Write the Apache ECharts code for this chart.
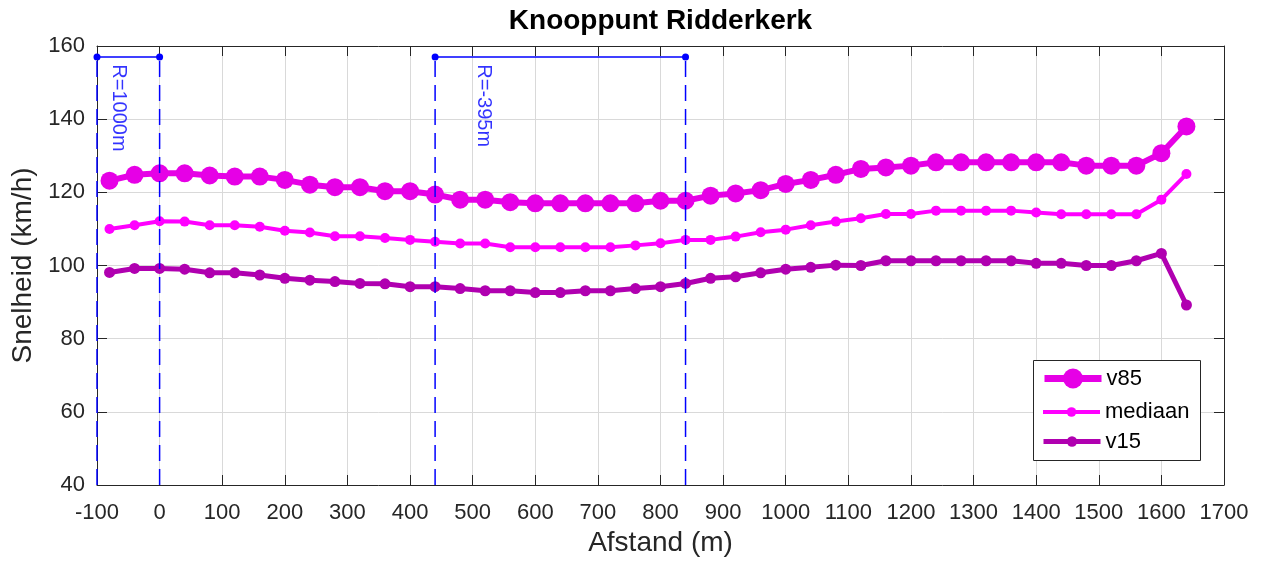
<!DOCTYPE html>
<html>
<head>
<meta charset="utf-8">
<script src="https://cdn.jsdelivr.net/npm/echarts@6/dist/echarts.min.js"></script>
<style>
html,body{margin:0;padding:0;background:#fff;}
#chart{width:1265px;height:567px;}
</style>
</head>
<body>
<div id="chart"></div>
<script>
// ---- data ----
const distance = [-80,-40,0,40,80,120,160,200,240,280,320,360,400,440,480,520,560,600,640,680,720,760,800,840,880,920,960,1000,1040,1080,1120,1160,1200,1240,1280,1320,1360,1400,1440,1480,1520,1560,1600,1640];
const v85 = [123.2,124.8,125.2,125.2,124.6,124.3,124.3,123.4,122.1,121.4,121.4,120.3,120.3,119.4,118,118,117.3,117,117,117,117,117,117.7,117.7,119.1,119.7,120.6,122.3,123.4,124.8,126.4,126.8,127.3,128.2,128.2,128.2,128.2,128.2,128.2,127.3,127.3,127.3,130.7,138];
const mediaan = [110,111,112.1,112,111,111,110.6,109.5,109,108,108,107.5,107,106.5,106,106,105,105,105,105,105,105.5,106.1,107,107,107.9,109.1,109.8,111,112,112.9,114.1,114.1,115,115,115,115,114.5,114,114,114,114,118,125];
const v15 = [98.1,99.2,99.2,99,98,98,97.4,96.5,96,95.6,95.1,95,94.2,94.2,93.7,93.1,93.1,92.6,92.6,93.1,93.1,93.7,94.2,95.1,96.5,96.9,98,99,99.5,100.1,100,101.3,101.3,101.3,101.3,101.3,101.3,100.6,100.6,100,100,101.3,103.3,89.2];
const seriesNames = ['v85','mediaan','v15'];
// curve (bocht) annotations
const curveStart = [-100, 440];
const curveEnd = [0, 840];
const curveLevel = 157;
const curveLabels = ['R=1000m','R=-395m'];
const curveLabelX = [-65, 517];
const curveLabelY = 155;
// axes
const xMin = -100, xMax = 1700, xStep = 100;
const yMin = 40, yMax = 160, yStep = 20;

const FONT = '"Liberation Sans", Arial, Helvetica, sans-serif';
const AX = '#262626';
const BLUE = '#0000ff';

const chart = echarts.init(document.getElementById('chart'), null, {renderer:'canvas'});

const pairs = arr => distance.map((d,i)=>[d, arr[i]]);

const series = [
  {name:'v85', type:'line', data:pairs(v85), symbol:'circle', symbolSize:18,
   itemStyle:{color:'#e600e6'}, lineStyle:{color:'#e600e6', width:6}, z:2},
  {name:'mediaan', type:'line', data:pairs(mediaan), symbol:'circle', symbolSize:10,
   itemStyle:{color:'#ff00ff'}, lineStyle:{color:'#ff00ff', width:4}, z:3},
  {name:'v15', type:'line', data:pairs(v15), symbol:'circle', symbolSize:11,
   itemStyle:{color:'#b000b0'}, lineStyle:{color:'#b000b0', width:5}, z:4}
];

// vertical dashed lines at curve bounds
const bounds = curveStart.concat(curveEnd);
bounds.forEach(x => {
  series.push({type:'line', data:[[x, yMin],[x, curveLevel]], symbol:'none', silent:true,
    lineStyle:{color:BLUE, width:1.5, type:[16,8]}, z:6});
});
// horizontal segments with dots
curveStart.forEach((s,i) => {
  series.push({type:'line', data:[[s, curveLevel],[curveEnd[i], curveLevel]], symbol:'circle', symbolSize:7,
    itemStyle:{color:BLUE}, lineStyle:{color:BLUE, width:1.5}, silent:true, z:6});
});
// labels
series.push({type:'scatter', silent:true, symbolSize:0, z:7,
  data: curveLabels.map((t,i)=>({value:[curveLabelX[i], curveLabelY], name:t})),
  label:{show:true, position:'inside', formatter:p=>p.name, rotate:-90, align:'left', verticalAlign:'middle',
    color:BLUE, fontSize:20, fontFamily:FONT}
});

const legendCommon = {
  left:1041, itemWidth:57, padding:0, itemGap:0, selectedMode:false, orient:'vertical',
  textStyle:{fontSize:22, color:'#000', fontFamily:FONT}, z:10
};

const option = {
  animation:false,
  backgroundColor:'#fff',
  textStyle:{fontFamily:FONT},
  title:{text:'Knooppunt Ridderkerk', left:660.5, textAlign:'center', top:7, padding:0,
    textStyle:{fontSize:28, fontWeight:'bold', color:'#000', fontFamily:FONT}},
  grid:{left:97, right:41, top:46, bottom:82, containLabel:false},
  graphic:[{type:'rect', z:9, shape:{x:1033.5, y:360.5, width:167, height:100},
    style:{fill:'#fff', stroke:AX, lineWidth:1}}],
  legend:[
    Object.assign({}, legendCommon, {data:['v85'], top:367.5, itemHeight:25, lineStyle:{width:7}}),
    Object.assign({}, legendCommon, {data:['mediaan'], top:401, itemHeight:12, lineStyle:{width:4}}),
    Object.assign({}, legendCommon, {data:['v15'], top:430.5, itemHeight:13, lineStyle:{width:5}})
  ],
  xAxis:[
    {type:'value', min:xMin, max:xMax, interval:xStep, position:'bottom',
     name:'Afstand (m)', nameLocation:'middle', nameGap:44,
     nameTextStyle:{fontSize:28, color:AX, fontFamily:FONT},
     axisLine:{show:true, onZero:false, lineStyle:{color:AX, width:1}},
     axisTick:{show:true, inside:true, length:10, lineStyle:{color:AX}},
     axisLabel:{fontSize:22, color:AX, margin:17, fontFamily:FONT, hideOverlap:false, formatter:v=>String(v)},
     splitLine:{show:true, lineStyle:{color:'#d9d9d9', width:1}}},
    {type:'value', min:xMin, max:xMax, interval:xStep, position:'top',
     axisLine:{show:true, onZero:false, lineStyle:{color:AX, width:1}},
     axisTick:{show:true, inside:true, length:10, lineStyle:{color:AX}},
     axisLabel:{show:false}, splitLine:{show:false}}
  ],
  yAxis:[
    {type:'value', min:yMin, max:yMax, interval:yStep, position:'left',
     name:'Snelheid (km/h)', nameLocation:'middle', nameGap:60,
     nameTextStyle:{fontSize:28, color:AX, fontFamily:FONT},
     axisLine:{show:true, onZero:false, lineStyle:{color:AX, width:1}},
     axisTick:{show:true, inside:true, length:10, lineStyle:{color:AX}},
     axisLabel:{fontSize:22, color:AX, margin:12, fontFamily:FONT, formatter:v=>String(v)},
     splitLine:{show:true, lineStyle:{color:'#d9d9d9', width:1}}},
    {type:'value', min:yMin, max:yMax, interval:yStep, position:'right',
     axisLine:{show:true, onZero:false, lineStyle:{color:AX, width:1}},
     axisTick:{show:true, inside:true, length:10, lineStyle:{color:AX}},
     axisLabel:{show:false}, splitLine:{show:false}}
  ],
  series: series
};
chart.setOption(option);
</script>
</body>
</html>
